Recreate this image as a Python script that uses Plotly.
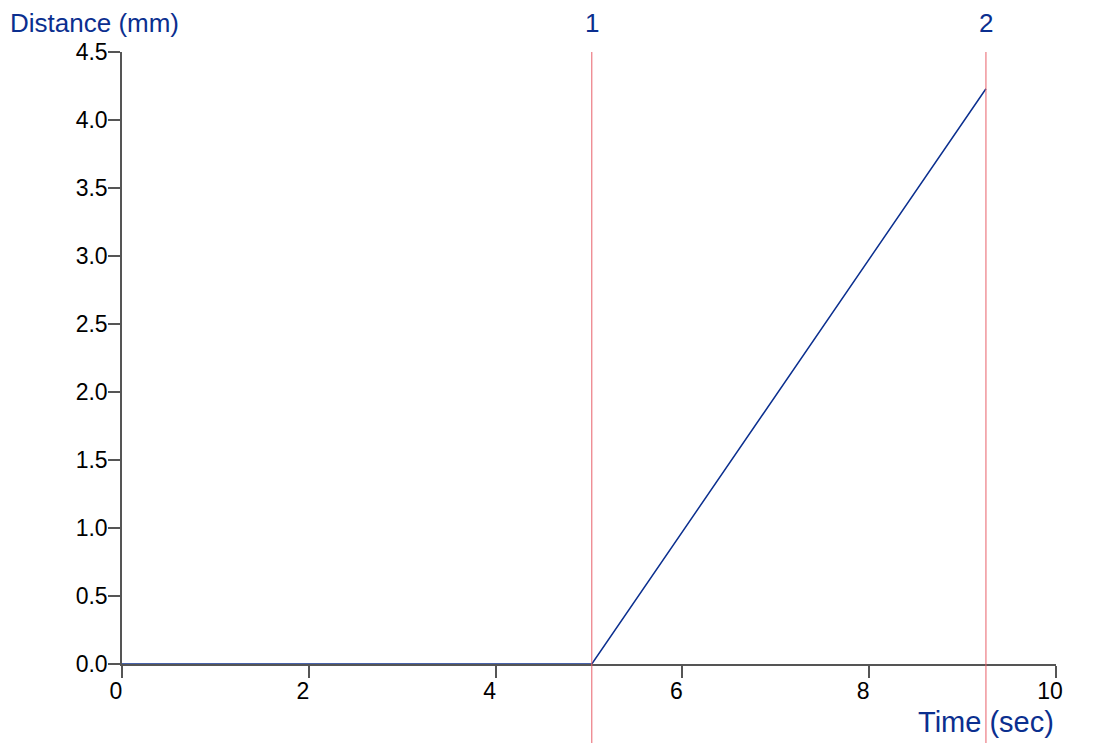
import plotly.graph_objects as go

# trace data
time_sec = [0, 5.03, 9.25]
distance_mm = [0, 0, 4.23]

# cursor markers
marker_labels = ['1', '2']
marker_times = [5.03, 9.25]

x_ticks = [0, 2, 4, 6, 8, 10]
y_ticks = [0.0, 0.5, 1.0, 1.5, 2.0, 2.5, 3.0, 3.5, 4.0, 4.5]

blue = '#0b2f8f'
red = '#e8606a'
axis_grey = '#555555'

fig = go.Figure()

fig.add_trace(go.Scatter(
    x=time_sec,
    y=distance_mm,
    mode='lines',
    line=dict(color=blue, width=1.5),
    showlegend=False,
    cliponaxis=False
))

for label, t in zip(marker_labels, marker_times):
    fig.add_shape(type='line', xref='x', yref='paper',
                  x0=t, x1=t, y0=-0.16, y1=1,
                  line=dict(color=red, width=1))
    fig.add_annotation(x=t, y=1, xref='x', yref='paper',
                       yshift=29, yanchor='middle', text=label,
                       showarrow=False,
                       font=dict(size=26, color=blue))

fig.add_annotation(x=0, y=1, xref='paper', yref='paper',
                   xshift=-114, yshift=29, xanchor='left', yanchor='middle',
                   text='Distance (mm)', showarrow=False,
                   font=dict(size=26, color=blue))
fig.add_annotation(x=1, y=0, xref='paper', yref='paper',
                   yshift=-58, xanchor='right', yanchor='middle',
                   text='Time (sec)', showarrow=False,
                   font=dict(size=29, color=blue))

fig.update_layout(
    width=1110,
    height=743,
    margin=dict(l=114, r=62, t=44, b=87),
    plot_bgcolor='white',
    paper_bgcolor='white',
    font=dict(family='Liberation Sans, Arial, sans-serif', size=23, color='black'),
    xaxis=dict(
        range=[0, 10],
        tickvals=x_ticks,
        ticks='outside', ticklen=12, tickcolor=axis_grey, tickwidth=1.5,
        showline=True, linecolor=axis_grey, linewidth=1.5,
        showgrid=False, zeroline=False,
        tickfont=dict(size=23),
        ticklabelstandoff=-6,
        ticklabelshift=-6
    ),
    yaxis=dict(
        range=[0, 4.5],
        tickvals=y_ticks,
        tickformat='.1f',
        ticks='outside', ticklen=12, tickcolor=axis_grey, tickwidth=1.5,
        showline=True, linecolor=axis_grey, linewidth=1.5,
        showgrid=False, zeroline=False,
        tickfont=dict(size=23),
        ticklabelstandoff=-4
    )
)

fig.write_html("out.html")
